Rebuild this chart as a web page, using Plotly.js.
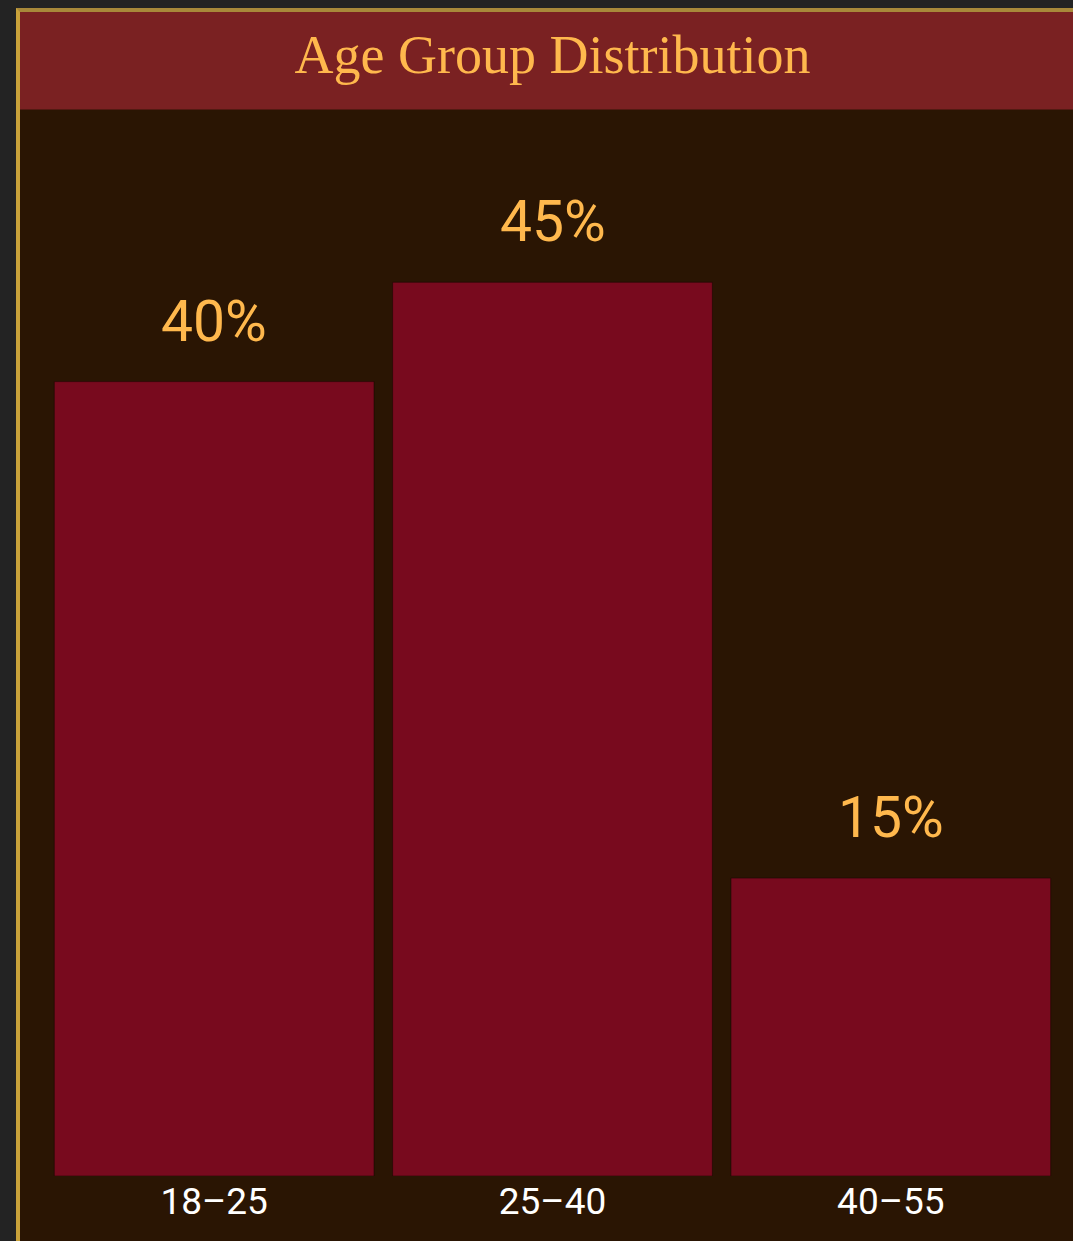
<!DOCTYPE html>
<html>
<head>
<meta charset="utf-8">
<script src="https://cdn.plot.ly/plotly-3.0.1.min.js"></script>
<style>
  html, body { margin: 0; padding: 0; background: #232323; width: 1073px; height: 1241px; overflow: hidden; }
  #frame { position: absolute; left: 16px; top: 8px; width: 1100px; height: 1250px;
           border-left: 4px solid #c9a23a; border-top: 4px solid #a8893a; background: #2a1503; }
  #chart { width: 1053px; height: 1229px; }
</style>
</head>
<body>
<div id="frame"><div id="chart"></div></div>
<script>
const categories = ["18–25", "25–40", "40–55"];
const values = [40, 45, 15];
const valueLabels = ["40%", "45%", "15%"];
const chartTitle = "Age Group Distribution";

const trace = {
  type: "bar",
  x: categories,
  y: values,
  marker: { color: "#780a1e", line: { color: "rgba(20,5,2,0.5)", width: 1 } },
  hoverinfo: "x+y"
};

const annotations = categories.map((c, i) => ({
  x: c, y: values[i], xref: "x", yref: "y",
  text: valueLabels[i], showarrow: false,
  yanchor: "bottom", yshift: 25,
  font: { family: "Roboto, sans-serif", size: 57, weight: 400, color: "#ffb84d" }
}));

const layout = {
  width: 1053, height: 1229,
  margin: { l: 25, r: 13, t: 170.5, b: 65 },
  paper_bgcolor: "#2a1503",
  plot_bgcolor: "#2a1503",
  bargap: 0.055,
  showlegend: false,
  title: {
    text: chartTitle,
    x: 0.5, xref: "paper", xanchor: "center",
    y: 0.966, yref: "container", yanchor: "middle",
    font: { family: "Liberation Serif, serif", size: 54, color: "#ffb84d" }
  },
  xaxis: {
    type: "category",
    showgrid: false, zeroline: false, showline: false, ticks: "",
    tickfont: { family: "Roboto, sans-serif", size: 37, weight: 400, color: "#ffffff" }
  },
  yaxis: {
    range: [0, 50],
    showgrid: false, zeroline: false, showline: false,
    showticklabels: false, ticks: ""
  },
  shapes: [{
    type: "rect", xref: "paper", yref: "paper",
    x0: -0.1, x1: 1.1, y0: 1.074, y1: 1.25,
    fillcolor: "#7a2122", line: { width: 0 }, layer: "below"
  }],
  annotations: annotations
};

Plotly.newPlot("chart", [trace], layout, { displayModeBar: false, staticPlot: true });
</script>
</body>
</html>
